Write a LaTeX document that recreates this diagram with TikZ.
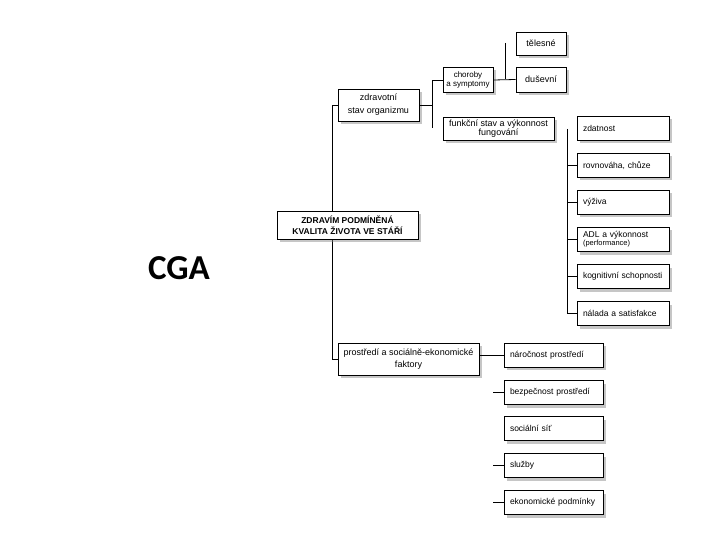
\documentclass[tikz,border=0pt]{standalone}
\usepackage{fontspec}
\setmainfont{Liberation Sans}
\newfontfamily\cgafont{Carlito}
\usetikzlibrary{shadows,backgrounds}
\tikzset{every picture/.append style={font=\fontsize{9}{11}\selectfont}}
\tikzset{
  box/.style={draw, line width=0.8pt, fill=white, inner sep=0pt, align=center,
    drop shadow={shadow xshift=3pt, shadow yshift=-3pt, opacity=0.45}},
  rbox/.style={box, minimum width=92pt, minimum height=24pt, text width=84pt,
    inner xsep=4pt, align=left, font=\fontsize{8.5}{10}\selectfont},
  bbox/.style={box, minimum width=99pt, minimum height=24pt, text width=91pt,
    inner xsep=4pt, align=left, font=\fontsize{8.5}{10}\selectfont},
  link/.style={line width=0.8pt},
}

\begin{document}
\begin{tikzpicture}[x=1pt,y=-1pt]
    \useasboundingbox (0,0) rectangle (720,540);
    \node[font=\cgafont\bfseries\fontsize{35}{38}\selectfont] (cga) at (179,268) {CGA};
    % main branch
    \node[box,minimum width=141pt,minimum height=28pt,
      font=\bfseries\fontsize{8.5}{11}\selectfont] (kvalita) at (347.5,225) {ZDRAVÍM PODMÍNĚNÁ\\KVALITA ŽIVOTA VE STÁŘÍ};
    \node[box,minimum width=81pt,minimum height=32pt,
      font=\fontsize{9}{13}\selectfont] (zdravotni) at (378.5,105) {zdravotní\\stav organizmu};
    \node[box,minimum width=141pt,minimum height=32pt,
      font=\fontsize{9}{12}\selectfont] (prostredi) at (408.5,359) {prostředí a sociálně-ekonomické\\faktory};
    % zdravotni stav
    \node[box,minimum width=50pt,minimum height=25pt,
      font=\fontsize{8}{9}\selectfont] (choroby) at (468,80) {choroby\\a symptomy};
    \node[box,minimum width=111pt,minimum height=23pt,
      font=\fontsize{9}{9}\selectfont] (funkcni) at (498.5,128.5) {funkční stav a výkonnost\\fungování};
    \node[box,minimum width=50pt,minimum height=23pt] (telesne) at (541,43.5) {tělesné};
    \node[box,minimum width=50pt,minimum height=25pt] (dusevni) at (541,79.5) {duševní};
    % funkcni stav
    \node[rbox] (zdatnost) at (623,128.5) {\hspace*{2pt}zdatnost};
    \node[rbox] (rovnovaha) at (623,165.5) {\hspace*{2pt}rovnováha, chůze};
    \node[rbox] (vyziva) at (623,202.5) {\hspace*{2pt}výživa};
    \node[rbox,font=\fontsize{8.5}{8}\selectfont] (adl) at (623,239.5) {\hspace*{2pt}ADL a výkonnost\\\hspace*{2pt}{\fontsize{7.5}{8}\selectfont(performance)}};
    \node[rbox] (kognitivni) at (623,276.5) {\hspace*{2pt}kognitivní schopnosti};
    \node[rbox] (nalada) at (623,313.5) {\hspace*{2pt}nálada a satisfakce};
    % prostredi
    \node[bbox] (narocnost) at (553.5,355) {\hspace*{2pt}náročnost prostředí};
    \node[bbox] (bezpecnost) at (553.5,392.5) {\hspace*{2pt}bezpečnost prostředí};
    \node[bbox] (socialni) at (553.5,428.5) {\hspace*{2pt}sociální síť};
    \node[bbox] (sluzby) at (553.5,465.5) {\hspace*{2pt}služby};
    \node[bbox] (ekonomicke) at (553.5,502.5) {\hspace*{2pt}ekonomické podmínky};

    \coordinate (zend) at (432,128);
    \coordinate (ctop) at (505,43);
    \coordinate (rtop) at (567,129);
    \begin{scope}[on background layer]
      \draw[link] (zdravotni.west) -- ++(-5,0) |- (prostredi.west);
    \end{scope}
    \draw[link] (zdravotni.east) -- (zdravotni.east -| zend);
    \draw[link] (choroby.west) -| (zend);
    \draw[link] (choroby.east) -- (dusevni.west);
    \draw[link] (ctop) -- (ctop |- dusevni.west);
    \draw[link] (rtop) |- (nalada.west);
    \foreach \n in {rovnovaha,vyziva,adl,kognitivni}
      \draw[link] (\n.west) -- (\n.west -| rtop);
    \draw[link] (narocnost.west -| prostredi.east) -- (narocnost.west);
    \foreach \n in {bezpecnost,sluzby,ekonomicke}
      \draw[link] (\n.west) -- ++(-11,0);
  \end{tikzpicture}
\end{document}
